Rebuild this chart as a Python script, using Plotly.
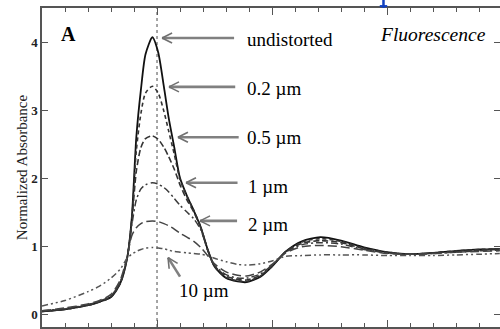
import math
import plotly.graph_objects as go

# ---- data -------------------------------------------------------------
x_energy = [-5, -4, -3, -2.5, -2, -1.6, -1.3, -1.1, -0.9, -0.7, -0.5, -0.2, 0.05, 0.3, 0.5,
            0.75, 1.0, 1.3, 1.6, 1.9, 2.2, 2.5, 3.0, 3.5, 3.9, 4.5, 5.0, 5.6, 6.3, 7.1,
            8.0, 9.0, 10.0, 11.0, 12.0, 13.0, 14.0, 14.9]

y_undistorted = [0.04, 0.07, 0.13, 0.18, 0.25, 0.45, 0.82, 1.4, 2.6, 3.3, 3.82, 4.07, 3.85, 3.34, 2.9,
                 2.45, 2.0, 1.74, 1.52, 1.28, 0.95, 0.7, 0.53, 0.48, 0.47, 0.55, 0.7, 0.92, 1.07, 1.13,
                 1.08, 0.98, 0.91, 0.88, 0.9, 0.93, 0.95, 0.96]
y_02um = [0.04, 0.07, 0.13, 0.18, 0.25, 0.45, 0.82, 1.38, 2.4, 2.95, 3.25, 3.35, 3.25, 2.98, 2.7,
          2.35, 1.98, 1.73, 1.52, 1.28, 0.95, 0.7, 0.54, 0.49, 0.48, 0.56, 0.7, 0.92, 1.06, 1.11,
          1.07, 0.97, 0.91, 0.88, 0.9, 0.93, 0.95, 0.96]
y_05um = [0.04, 0.07, 0.13, 0.18, 0.26, 0.46, 0.82, 1.35, 2.1, 2.45, 2.58, 2.62, 2.57, 2.45, 2.32,
          2.13, 1.9, 1.68, 1.5, 1.27, 0.95, 0.71, 0.56, 0.51, 0.5, 0.57, 0.71, 0.92, 1.04, 1.08,
          1.05, 0.96, 0.9, 0.88, 0.9, 0.92, 0.94, 0.95]
y_1um = [0.05, 0.08, 0.14, 0.19, 0.27, 0.47, 0.83, 1.3, 1.68, 1.84, 1.9, 1.93, 1.91, 1.86, 1.8,
         1.7, 1.6, 1.5, 1.4, 1.24, 0.94, 0.72, 0.58, 0.53, 0.53, 0.59, 0.72, 0.91, 1.02, 1.05,
         1.03, 0.95, 0.9, 0.88, 0.89, 0.91, 0.93, 0.94]
y_2um = [0.05, 0.09, 0.15, 0.2, 0.29, 0.5, 0.84, 1.15, 1.27, 1.33, 1.36, 1.37, 1.36, 1.33, 1.3,
         1.25, 1.19, 1.13, 1.07, 0.98, 0.86, 0.74, 0.62, 0.57, 0.56, 0.62, 0.73, 0.9, 0.99, 1.01,
         0.99, 0.94, 0.89, 0.88, 0.89, 0.91, 0.92, 0.93]
y_10um = [0.12, 0.2, 0.33, 0.41, 0.53, 0.66, 0.82, 0.88, 0.92, 0.95, 0.97, 0.98, 0.97, 0.96, 0.94,
          0.92, 0.91, 0.9, 0.89, 0.88, 0.86, 0.82, 0.77, 0.73, 0.72, 0.74, 0.78, 0.85, 0.86, 0.87,
          0.87, 0.87, 0.86, 0.86, 0.86, 0.87, 0.88, 0.89]

series_names = ["undistorted", "0.2 µm", "0.5 µm", "1 µm", "2 µm", "10 µm"]
series_values = [y_undistorted, y_02um, y_05um, y_1um, y_2um, y_10um]
y_tick_vals = [0, 1, 2, 3, 4]
y_tick_text = ["0", "1", "2", "3", "4"]

# ---- styles -----------------------------------------------------------
dashes = ["solid", "4px,3px", "6px,3px", "7px,3px,2px,3px", "9px,4px", "6px,3px,2px,3px,2px,3px"]
colors = ["#111111", "#333333", "#333333", "#3a3a3a", "#444444", "#555555"]
widths = [1.8, 1.6, 1.6, 1.5, 1.5, 1.5]

X_MIN, X_MAX = -5, 14.91
Y_MIN, Y_MAX = -0.19, 4.5
L, R, T, B = 42, 0, 8, 2
W, H = 500, 329
PX_X = (W - L - R) / (X_MAX - X_MIN)
PX_Y = (H - T - B) / (Y_MAX - Y_MIN)

fig = go.Figure()
for name, vals, d, c, w in zip(series_names, series_values, dashes, colors, widths):
    fig.add_trace(go.Scatter(x=x_energy, y=vals, mode="lines", name=name,
                             line=dict(color=c, width=w, dash=d, shape="spline", smoothing=0.7)))

shapes = []
# vertical dotted line at the edge position
shapes.append(dict(type="line", xref="x", yref="paper", x0=0, x1=0, y0=0, y1=1,
                   line=dict(color="#888888", width=1.5, dash="dot"), layer="below"))


def arrow(tip, tail):
    tx, ty = tip
    sx, sy = tail
    shapes.append(dict(type="line", xref="x", yref="y", x0=sx, y0=sy, x1=tx, y1=ty,
                       line=dict(color="#808080", width=2.6)))
    dx = (sx - tx) * PX_X
    dy = (sy - ty) * PX_Y
    n = math.hypot(dx, dy)
    ux, uy = dx / n, dy / n
    hl, hw = 10, 5
    for s in (1, -1):
        px = ux * hl + s * (-uy) * hw
        py = uy * hl + s * ux * hw
        shapes.append(dict(type="line", xref="x", yref="y", x0=tx, y0=ty,
                           x1=tx + px / PX_X, y1=ty + py / PX_Y,
                           line=dict(color="#707070", width=1.6)))


arrow((0.22, 4.06), (3.35, 4.06))
arrow((0.52, 3.34), (3.4, 3.34))
arrow((0.91, 2.6), (3.55, 2.6))
arrow((1.26, 1.93), (3.5, 1.93))
arrow((1.87, 1.37), (3.48, 1.37))
arrow((0.48, 0.83), (1.0, 0.55))

# small blue mark at the top edge
shapes.append(dict(type="line", xref="paper", yref="paper", x0=0.7456, x1=0.7456, y0=1.0, y1=1.03,
                   line=dict(color="#1040c0", width=2.5)))
shapes.append(dict(type="line", xref="paper", yref="paper", x0=0.7375, x1=0.7537, y0=1.006, y1=1.006,
                   line=dict(color="#1040c0", width=2)))

serif = "Liberation Serif, Times New Roman, serif"
ann = []


def label(x, y, text, size=19, **kw):
    f = dict(family=serif, size=size, color="#000000")
    ann.append(dict(x=x, y=y, xref="x", yref="y", text=text, showarrow=False,
                    xanchor="left", yanchor="middle", font=f, **kw))


label(3.83, 4.03, "undistorted")
label(3.83, 3.32, "0.2 µm")
label(3.83, 2.59, "0.5 µm")
label(3.87, 1.88, "1 µm")
label(3.87, 1.32, "2 µm")
label(0.87, 0.34, "10 µm")
label(9.6, 4.11, "<i>Fluorescence</i>", size=19.5)
label(-4.26, 4.12, "<b>A</b>", size=20)

fig.update_layout(
    width=W, height=H,
    margin=dict(l=L, r=R, t=T, b=B, pad=0, autoexpand=False),
    paper_bgcolor="white", plot_bgcolor="white",
    showlegend=False,
    shapes=shapes,
    annotations=ann,
    xaxis=dict(range=[X_MIN, X_MAX], showgrid=False, zeroline=False, automargin=False,
               showline=True, linecolor="#555555", linewidth=1.5, mirror="ticks",
               ticks="inside", ticklen=7, tickwidth=1.2, tickcolor="#555555",
               tick0=0, dtick=5, showticklabels=False,
               minor=dict(ticks="inside", ticklen=4, dtick=1, tick0=0, tickcolor="#555555", tickwidth=1)),
    yaxis=dict(range=[Y_MIN, Y_MAX], showgrid=False, zeroline=False, automargin=False,
               showline=True, linecolor="#555555", linewidth=1.5, mirror="ticks",
               ticks="inside", ticklen=6, tickwidth=1.2, tickcolor="#555555",
               tickvals=y_tick_vals, ticktext=y_tick_text,
               tickfont=dict(family=serif, size=13, color="#222222", weight="bold"),
               title=dict(text="Normalized Absorbance", standoff=0,
                          font=dict(family=serif, size=15, color="#222222"))),
)

fig.write_html("out.html", config={"displayModeBar": False},
               post_script="document.body.style.margin='0px';")
